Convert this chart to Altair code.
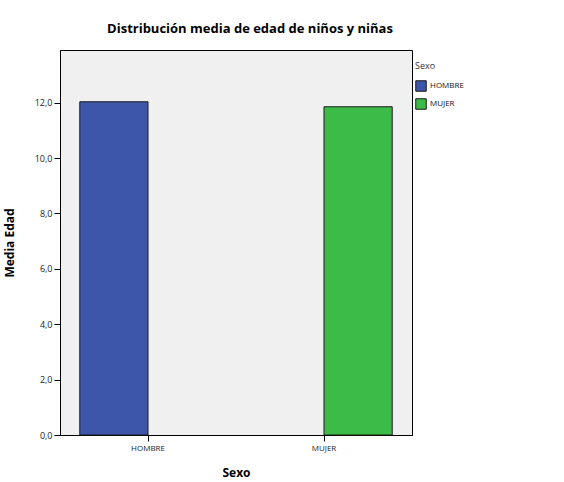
import altair as alt
import pandas as pd

sexo = ["HOMBRE", "MUJER"]
media_edad = [12.03, 11.85]
colores = ["#3E56AA", "#3CBB48"]

df = pd.DataFrame({"Sexo": sexo, "Media Edad": media_edad})

font = "Open Sans"

chart = alt.Chart(df).mark_bar(stroke="#1a1a1a", strokeWidth=1).encode(
    x=alt.X("Sexo:N", sort=sexo,
            scale=alt.Scale(paddingInner=0, paddingOuter=0),
            axis=alt.Axis(title="Sexo", labelAngle=0, labelFont=font, labelFontSize=8,
                          labelColor="#222", titleFont=font, titleFontSize=12,
                          titleFontWeight="bold", titlePadding=15, tickSize=6,
                          domainColor="#000", tickColor="#000", labelPadding=3)),
    xOffset=alt.XOffset("Sexo:N", sort=sexo,
                        scale=alt.Scale(paddingInner=0, paddingOuter=0.29)),
    y=alt.Y("Media Edad:Q", scale=alt.Scale(domain=[0, 13.9], nice=False),
            axis=alt.Axis(title="Media  Edad", values=[0, 2, 4, 6, 8, 10, 12],
                          labelExpr="replace(format(datum.value, '.1f'), '.', ',')",
                          grid=False, labelFont=font, labelFontSize=9, labelColor="#222",
                          titleFont=font, titleFontSize=12, titleFontWeight="bold",
                          titlePadding=18, tickSize=6, domainColor="#000", tickColor="#000")),
    color=alt.Color("Sexo:N", sort=sexo,
                    scale=alt.Scale(domain=sexo, range=colores),
                    legend=alt.Legend(title="Sexo", orient="none", legendX=355, legendY=12,
                                      symbolType="square", symbolSize=110,
                                      symbolStrokeColor="#1a1a1a", symbolStrokeWidth=1,
                                      symbolOpacity=1,
                                      titleFont=font, titleFontSize=9, titleFontWeight="normal",
                                      titleColor="#333", labelColor="#111",
                                      labelFont=font, labelFontSize=8, titlePadding=9,
                                      rowPadding=2, labelOffset=3)),
).properties(
    width=352,
    height=385,
    background="white",
    title=alt.TitleParams("Distribución media de edad de niños y niñas", font=font,
                          fontSize=13, fontWeight="bold", color="#000", dx=14, offset=14),
    autosize=alt.AutoSizeParams(type="none"),
    padding={"left": 60, "top": 50, "right": 152, "bottom": 47},
).configure_view(
    fill="#F0F0F0", stroke="#000", strokeWidth=1
)

chart.save("out.html", embed_options={"renderer": "svg", "actions": False})
